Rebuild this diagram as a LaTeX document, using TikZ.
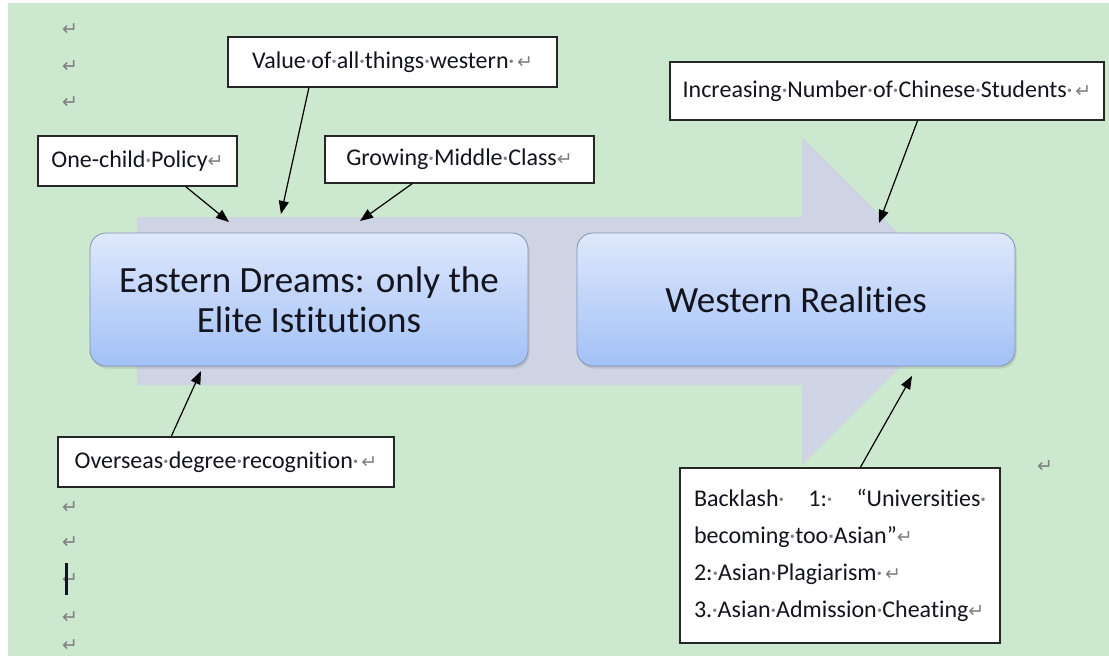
\documentclass[tikz,border=0pt]{standalone}
\usepackage{fontspec}
\setmainfont{Carlito}[Ligatures={NoCommon}]
\newfontfamily\symfont{DejaVu Sans}
\usetikzlibrary{arrows.meta,shadows}

\definecolor{pagegreen}{RGB}{204,232,207}
\definecolor{flowgray}{RGB}{206,212,227}
\definecolor{boxtop}{RGB}{223,232,252}
\definecolor{boxbottom}{RGB}{162,193,246}
\definecolor{boxline}{RGB}{128,146,186}
\definecolor{markgray}{RGB}{128,128,128}
\definecolor{inkdark}{RGB}{20,20,30}

\newcommand\spc{\textcolor{markgray}{\makebox[0.23em]{·}}}
\newcommand\ret{\mbox{\textcolor{markgray}{\symfont\fontsize{19}{19}\selectfont ↵}}}

\tikzset{
  stage/.style={rounded corners=16pt, draw=boxline, line width=0.8pt,
    top color=boxtop, bottom color=boxbottom,
    minimum width=438pt, minimum height=133pt, align=center,
    font=\fontsize{37}{40}\selectfont, text=inkdark,
    drop shadow={opacity=0.25,shadow xshift=1.5pt,shadow yshift=-2.5pt}},
  factor/.style={draw=black!85, fill=white, line width=1.1pt, inner sep=0pt,
    font=\fontsize{24}{37}\selectfont, text=inkdark},
  retmark/.style={inner sep=0pt},
  pointer/.style={line width=1.2pt, -{Triangle[length=13pt,width=10pt]}}
}

\begin{document}
\begin{tikzpicture}[x=1pt,y=-1pt]
  \useasboundingbox (0,0) rectangle (1109,656);
  \fill[pagegreen] (8,3) rectangle (1109,656);

  % the wide flow arrow behind the two stages
  \fill[flowgray] (137,217) -- (802,217) -- (802,137) -- (966,301)
    -- (802,465) -- (802,385) -- (137,385) -- cycle;

  \node[stage] (east) at (309,299.5) {Eastern Dreams: only the\\Elite Istitutions};
  \node[stage] (west) at (796,299.5) {Western Realities};

  % factors
  \node[factor, minimum width=329pt, minimum height=50pt] (value) at (392.5,62)
    {Value\spc of\spc all\spc things\spc western\spc\hspace{3pt}\ret};
  \node[factor, minimum width=199pt, minimum height=50pt] (policy) at (137.5,161)
    {One-child\spc Policy\ret};
  \node[factor, minimum width=269pt, minimum height=47pt] (middle) at (459.5,159.5)
    {Growing\spc Middle\spc Class\ret};
  \node[factor, minimum width=434pt, minimum height=58pt] (students) at (887,91)
    {Increasing\spc Number\spc of\spc Chinese\spc Students\spc\hspace{3pt}\ret};
  \node[factor, minimum width=336pt, minimum height=50pt] (degree) at (226,462)
    {Overseas\spc degree\spc recognition\spc\hspace{3pt}\ret};
  \node[factor, text width=292pt, inner xsep=14pt, minimum height=175pt,
    align=left] (backlash) at (840,555.5)
    {\makebox[292pt][l]{Backlash\spc\hfill 1:\spc\hfill “Universities\spc}\\
     becoming\spc too\spc Asian”\ret\\
     2:\spc Asian\spc Plagiarism\spc\hspace{3pt}\ret\\
     3.\spc Asian\spc Admission\spc Cheating\ret};

  % where the pointers land
  \coordinate (p1) at (229,222);
  \coordinate (p2) at (281,214);
  \coordinate (p3) at (360,221);
  \coordinate (p4) at (879,223);
  \coordinate (p5) at (201,371);
  \coordinate (p6) at (912,376);

  \draw[pointer] (policy.-28) -- (p1);
  \draw[pointer] (value.-163) -- (p2);
  \draw[pointer] (middle.-153) -- (p3);
  \draw[pointer] (students.-44) -- (p4);
  \draw[pointer] (degree.155) -- (p5);
  \draw[pointer] (backlash.77) -- (p6);

  % paragraph marks of the page
  \foreach \y [count=\i] in {30,67,103,508,543,580,618,646}
    \node[retmark] (mark\i) at (70,\y) {\ret};
  \node[retmark] (markr) at (1045,467) {\ret};
  \fill[inkdark] (65,563) rectangle (68,595);
\end{tikzpicture}
\end{document}
